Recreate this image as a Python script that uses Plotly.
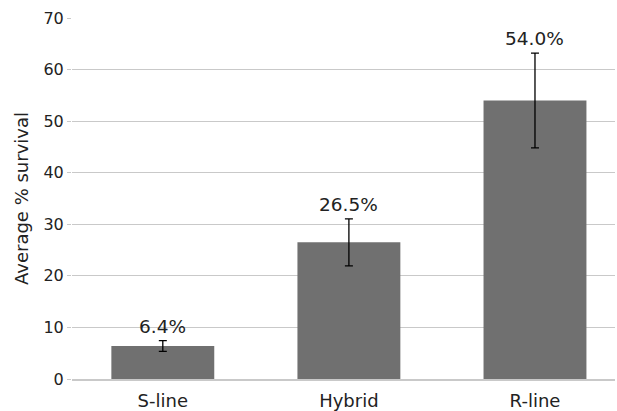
import plotly.graph_objects as go

categories = ["S-line", "Hybrid", "R-line"]
survival = [6.4, 26.5, 54.0]
errors = [1.05, 4.55, 9.2]
labels = ["6.4%", "26.5%", "54.0%"]
y_ticks = [0, 10, 20, 30, 40, 50, 60, 70]

FONT = "DejaVu Sans"
GRID = "#c9c9c9"

fig = go.Figure()
fig.add_trace(go.Bar(
    x=categories,
    y=survival,
    marker=dict(color="#707070", line=dict(width=0)),
    error_y=dict(type="data", array=errors, visible=True,
                 color="#000000", thickness=1.3, width=4),
    width=0.553,
    hoverinfo="skip",
))

for c, v, e, t in zip(categories, survival, errors, labels):
    fig.add_annotation(x=c, y=v + e, text=t, showarrow=False,
                       yanchor="bottom", yshift=2,
                       font=dict(family=FONT, size=18.5, color="#222222"))

fig.update_layout(
    width=617, height=411,
    margin=dict(l=72, r=2, t=18, b=32),
    paper_bgcolor="white", plot_bgcolor="white",
    showlegend=False,
    font=dict(family=FONT, color="#222222"),
)
fig.update_xaxes(
    range=[-0.488, 2.43],
    automargin=False,
    showgrid=False,
    showline=True, linecolor=GRID, linewidth=1.5,
    ticks="outside", ticklen=5, tickcolor="rgba(0,0,0,0)",
    tickfont=dict(family=FONT, size=18, color="#222222"),
)
fig.update_yaxes(
    range=[0, 70],
    automargin=False,
    tickvals=y_ticks,
    showgrid=True, gridcolor=GRID, gridwidth=1.2,
    zeroline=False,
    showline=False,
    ticks="outside", ticklen=4, tickcolor=GRID,
    tickfont=dict(family=FONT, size=16, color="#222222"),
    title=dict(text="Average % survival", standoff=10,
               font=dict(family=FONT, size=18, color="#222222")),
)

fig.write_html("out.html",
               config={"displayModeBar": False, "staticPlot": True},
               post_script="document.body.style.margin='0';document.body.style.overflow='hidden';")
